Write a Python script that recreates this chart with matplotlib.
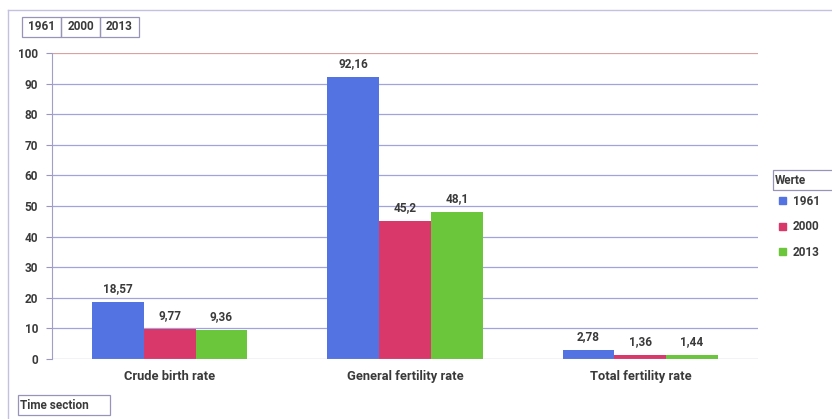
import matplotlib
matplotlib.use("Agg")
import matplotlib.pyplot as plt
from matplotlib.patches import Rectangle
import numpy as np

categories = ["Crude birth rate", "General fertility rate", "Total fertility rate"]
years = ["1961", "2000", "2013"]
values_1961 = [18.57, 92.16, 2.78]
values_2000 = [9.77, 45.2, 1.36]
values_2013 = [9.36, 48.1, 1.44]
yticks = [0, 10, 20, 30, 40, 50, 60, 70, 80, 90, 100]

colors = ["#5373e2", "#d8386a", "#6cc63b"]
txt = "#3a3a3a"
plt.rcParams["font.family"] = ["Roboto", "DejaVu Sans"]
FS = 8.5
FW = "bold"

W, H = 832, 419
fig = plt.figure(figsize=(W / 100, H / 100), dpi=100)

def fx(px):
    return px / W

def fy(py):
    return 1 - py / H

ax = fig.add_axes([fx(52), fy(359), fx(758) - fx(52), fy(53) - fy(359)])

x = np.arange(len(categories))
bw = 0.22
series = [values_1961, values_2000, values_2013]
for i, (vals, col) in enumerate(zip(series, colors)):
    pos = x + (i - 1) * bw
    bars = ax.bar(pos, vals, width=bw, color=col, zorder=3)
    for b, v in zip(bars, vals):
        ax.annotate(f"{v:g}".replace(".", ","), (b.get_x() + b.get_width() / 2, v),
                    xytext=(0, 5), textcoords="offset points", ha="center", va="bottom",
                    fontsize=FS, fontweight=FW, color=txt)

ax.set_xlim(-0.5, 2.5)
ax.set_ylim(0, 100)
ax.set_yticks(yticks)
ax.set_yticklabels([str(t) for t in yticks], fontsize=FS, fontweight=FW, color=txt)
ax.set_xticks(x)
ax.set_xticklabels(categories, fontsize=9.3, fontweight=FW, color=txt)
ax.tick_params(axis="x", length=0, pad=8)
ax.tick_params(axis="y", length=4, color="#9a96c0", pad=6)
for t in yticks[1:]:
    gc = "#dba0a0" if t == 100 else "#a3a3dc"
    ax.axhline(t, color=gc, lw=0.9, zorder=1)
ax.axhline(0, color="#a29ec6", lw=0.9, zorder=4)
for s in ["top", "right", "bottom"]:
    ax.spines[s].set_visible(False)
ax.spines["left"].set_color("#a29ec6")
ax.spines["left"].set_zorder(4)

# outer chart frame
fig.add_artist(plt.Line2D([fx(8), 1], [fy(10), fy(10)], color="#c4c0e0", lw=1.0))
fig.add_artist(plt.Line2D([fx(8), fx(8)], [fy(10), 0], color="#c4c0e0", lw=1.0))

def button(x0, y0, w, h, label, ha="center"):
    fig.add_artist(Rectangle((fx(x0), fy(y0 + h)), fx(w), h / H, fill=False,
                             ec="#9894b8", lw=0.9, transform=fig.transFigure))
    if ha == "center":
        fig.text(fx(x0 + w / 2), fy(y0 + h / 2), label, ha="center", va="center",
                 fontsize=FS, fontweight=FW, color=txt)
    else:
        fig.text(fx(x0 + 2), fy(y0 + h / 2), label, ha="left", va="center",
                 fontsize=FS, fontweight=FW, color=txt)

for k, yr in enumerate(years):
    button(22 + k * 39, 17, 39, 20, yr)
button(18, 395, 92, 20, "Time section", ha="left")
button(773, 170, 62, 20, "Werte", ha="left")

for k, (yr, col) in enumerate(zip(years, colors)):
    yy = 201 + k * 25.5
    fig.add_artist(Rectangle((fx(779), fy(yy + 3.5)), fx(7), 7 / H, color=col,
                             transform=fig.transFigure))
    fig.text(fx(793), fy(yy), yr, ha="left", va="center", fontsize=FS,
             fontweight=FW, color=txt)

fig.savefig("out.png", dpi=100, facecolor="white")
